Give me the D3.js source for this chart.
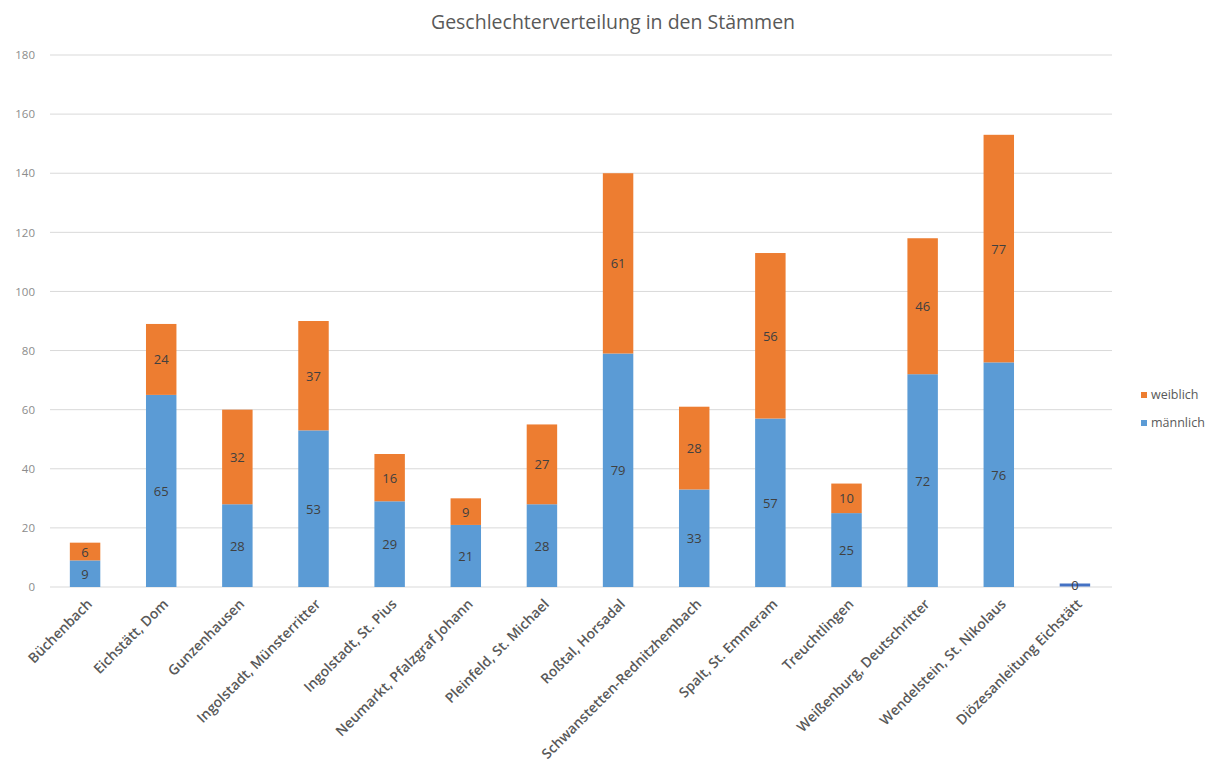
<!DOCTYPE html>
<html><head><meta charset="utf-8">
<script src="https://cdn.jsdelivr.net/npm/d3@7"></script>
<style>body{margin:0;background:#fff;font-family:"Open Sans",sans-serif}</style>
</head><body><svg id="c" width="1212" height="769"></svg>
<script>
const categories = ["Büchenbach","Eichstätt, Dom","Gunzenhausen","Ingolstadt, Münsterritter","Ingolstadt, St. Pius","Neumarkt, Pfalzgraf Johann","Pleinfeld, St. Michael","Roßtal, Horsadal","Schwanstetten-Rednitzhembach","Spalt, St. Emmeram","Treuchtlingen","Weißenburg, Deutschritter","Wendelstein, St. Nikolaus","Diözesanleitung Eichstätt"];
const maennlich = [9,65,28,53,29,21,28,79,33,57,25,72,76,0];
const weiblich  = [6,24,32,37,16,9,27,61,28,56,10,46,77,0];
const yTicks = [0,20,40,60,80,100,120,140,160,180];
const seriesNames = ["männlich","weiblich"];
const colors = {"männlich":"#5B9BD5","weiblich":"#ED7D31"};

const svg = d3.select("#c");
const font = "'Open Sans', sans-serif";
const x = d3.scaleBand().domain(categories).range([47,1113]).paddingInner(0.6).paddingOuter(0.3);
const y = d3.scaleLinear().domain([0,180]).range([587,55]);

svg.append("text").attr("x",613).attr("y",29).attr("text-anchor","middle")
  .attr("font-family",font).attr("font-size",19.5).attr("fill","#595959")
  .text("Geschlechterverteilung in den Stämmen");

// grid
svg.append("g").selectAll("line").data(yTicks).join("line")
  .attr("x1",50).attr("x2",1112).attr("y1",d=>y(d)).attr("y2",d=>y(d))
  .attr("stroke","#d9d9d9").attr("stroke-width",1);
// y axis labels
const yAxis = d3.axisLeft(y).tickValues(yTicks).tickSize(0).tickPadding(0);
const ya = svg.append("g").attr("transform","translate(35,0)").call(yAxis);
ya.select(".domain").remove();
ya.selectAll("text").attr("font-family",font).attr("font-size",11.5).attr("fill","#8c8c8c");

const rows = categories.map((c,i)=>({cat:c,"männlich":maennlich[i],"weiblich":weiblich[i]}));
const stack = d3.stack().keys(seriesNames)(rows);

const g = svg.append("g");
stack.forEach(layer=>{
  g.append("g").selectAll("rect").data(layer).join("rect")
    .attr("x",d=>x(d.data.cat)).attr("width",x.bandwidth())
    .attr("y",d=>y(d[1])).attr("height",d=>Math.max(0,y(d[0])-y(d[1])))
    .attr("fill",colors[layer.key]);
  g.append("g").selectAll("text").data(layer.filter(d=>d[1]-d[0]>0)).join("text")
    .attr("x",d=>x(d.data.cat)+x.bandwidth()/2)
    .attr("y",d=>(y(d[0])+y(d[1]))/2+5)
    .attr("text-anchor","middle").attr("font-family",font).attr("font-size",13)
    .attr("fill","#404040").text(d=>d[1]-d[0]);
});
// zero-value category marker
const zeroRows = rows.filter(r=>r["männlich"]+r["weiblich"]===0);
g.append("g").selectAll("line").data(zeroRows).join("line")
  .attr("x1",d=>x(d.cat)).attr("x2",d=>x(d.cat)+x.bandwidth())
  .attr("y1",y(0)-2).attr("y2",y(0)-2).attr("stroke","#4472C4").attr("stroke-width",3);
g.append("g").selectAll("text").data(zeroRows).join("text")
  .attr("x",d=>x(d.cat)+x.bandwidth()/2).attr("y",y(0)+3)
  .attr("text-anchor","middle").attr("font-family",font).attr("font-size",13)
  .attr("fill","#404040").text(d=>d["männlich"]);

// x labels
const xAxis = d3.axisBottom(x).tickSize(0).tickPadding(0);
const xa = svg.append("g").attr("transform",`translate(0,${y(0)})`).call(xAxis);
xa.select(".domain").remove();
xa.selectAll("text")
  .attr("font-family",font).attr("font-size",14).attr("font-weight",600).attr("fill","#595959")
  .attr("text-anchor","end").attr("dy",0).attr("y",0)
  .attr("transform","translate(8,18) rotate(-45)");

// legend
const legendItems = ["weiblich","männlich"];
const lg = svg.append("g").attr("transform","translate(1141,0)");
legendItems.forEach((k,i)=>{
  lg.append("rect").attr("x",0).attr("y",392+i*28).attr("width",6).attr("height",6).attr("fill",colors[k]);
  lg.append("text").attr("x",10).attr("y",399+i*28).attr("font-family",font).attr("font-size",12.5)
    .attr("fill","#595959").text(k);
});
</script></body></html>
